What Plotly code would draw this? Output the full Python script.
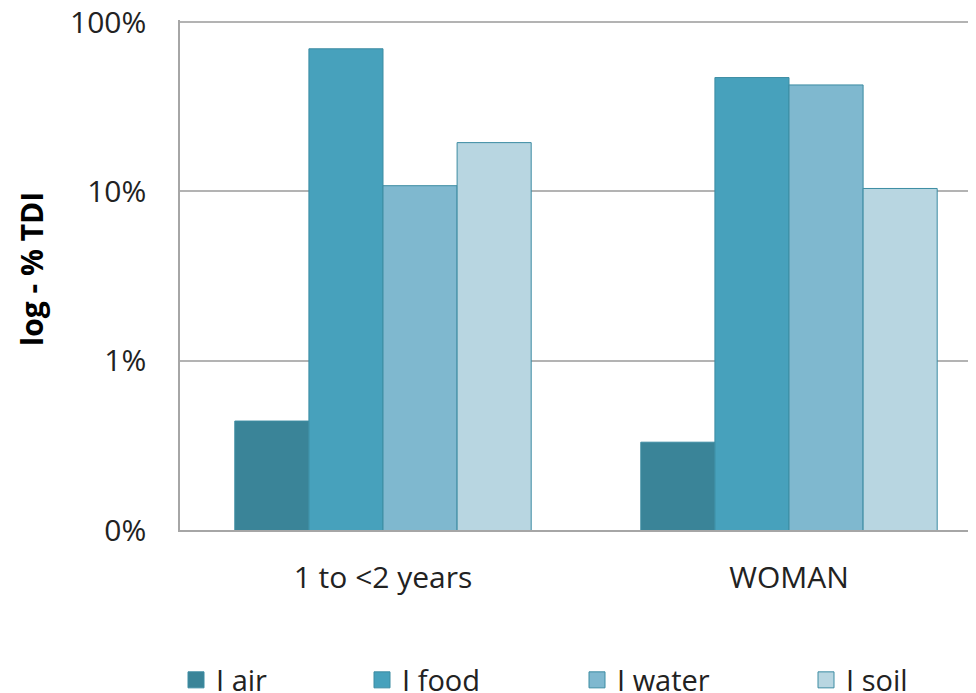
import plotly.graph_objects as go

categories = ["1 to <2 years", "WOMAN"]
series_names = ["I air", "I food", "I water", "I soil"]
air = [0.44, 0.33]
food = [69.5, 47.0]
water = [10.8, 42.5]
soil = [19.4, 10.4]
tick_vals = [0.1, 1, 10, 100]
tick_text = ["0%", "1%", "10%", "100%"]

colors = ["#3A8498", "#47A1BC", "#7FB8CF", "#B8D6E1"]
outline = "#3C8CA2"
font_family = "Open Sans, sans-serif"
text_color = "#222222"

W, H = 976, 693
ML, MT, MB = 172, 12, 171

fig = go.Figure()
values = [air, food, water, soil]
legend_ids = ["legend", "legend2", "legend3", "legend4"]
for name, vals, col, lg in zip(series_names, values, colors, legend_ids):
    fig.add_trace(go.Bar(
        x=categories, y=vals, name=name,
        marker=dict(color=col, line=dict(color=outline, width=1)),
        showlegend=False,
    ))
    fig.add_trace(go.Scatter(
        x=[categories[0]], y=[None], mode="markers", name=name,
        marker=dict(symbol="square", size=18, color=col,
                    line=dict(color=outline, width=1)),
        legend=lg, showlegend=True, hoverinfo="skip",
    ))

legend_x = [168, 354, 569, 798]
legend_common = dict(
    xref="container", yref="container", xanchor="left", yanchor="middle",
    y=1 - 672 / H, bgcolor="rgba(0,0,0,0)",
    font=dict(family=font_family, size=29, color=text_color),
)
layout_legends = {}
for lg, lx in zip(legend_ids, legend_x):
    layout_legends[lg] = dict(x=lx / W, **legend_common)

plot_w = W - ML
plot_h = H - MT - MB
fig.update_layout(
    width=W, height=H,
    margin=dict(l=ML, r=0, t=MT, b=MB, autoexpand=False),
    paper_bgcolor="white", plot_bgcolor="white",
    barmode="group", bargap=0.27, bargroupgap=0,
    font=dict(family=font_family, size=29, color=text_color),
    **layout_legends,
)
fig.add_annotation(
    text="<b>log - % TDI</b>", textangle=-90,
    xref="paper", yref="paper", x=(23 - ML) / plot_w, y=0.5 + 6 / plot_h,
    xanchor="center", yanchor="middle", showarrow=False,
    font=dict(family=font_family, size=30, color="#000000"),
)
fig.update_xaxes(
    type="category", range=[-0.5, -0.5 + plot_w / 406], showgrid=False, showline=True,
    linecolor="#A6A6A6", linewidth=1.5, ticks="", tickangle=0,
    tickfont=dict(family=font_family, size=30, color=text_color),
    ticklabelstandoff=20, automargin=False,
)
fig.update_yaxes(
    type="log", range=[-1, 2.012], tickvals=tick_vals, ticktext=tick_text,
    showgrid=True, gridcolor="#B3B3B3", gridwidth=1.5,
    showline=True, linecolor="#A6A6A6", linewidth=1.5, ticks="",
    tickfont=dict(family=font_family, size=30, color=text_color),
    ticklabelstandoff=26, automargin=False, ticklabeloverflow="allow",
)
fig.write_html("out.html")
